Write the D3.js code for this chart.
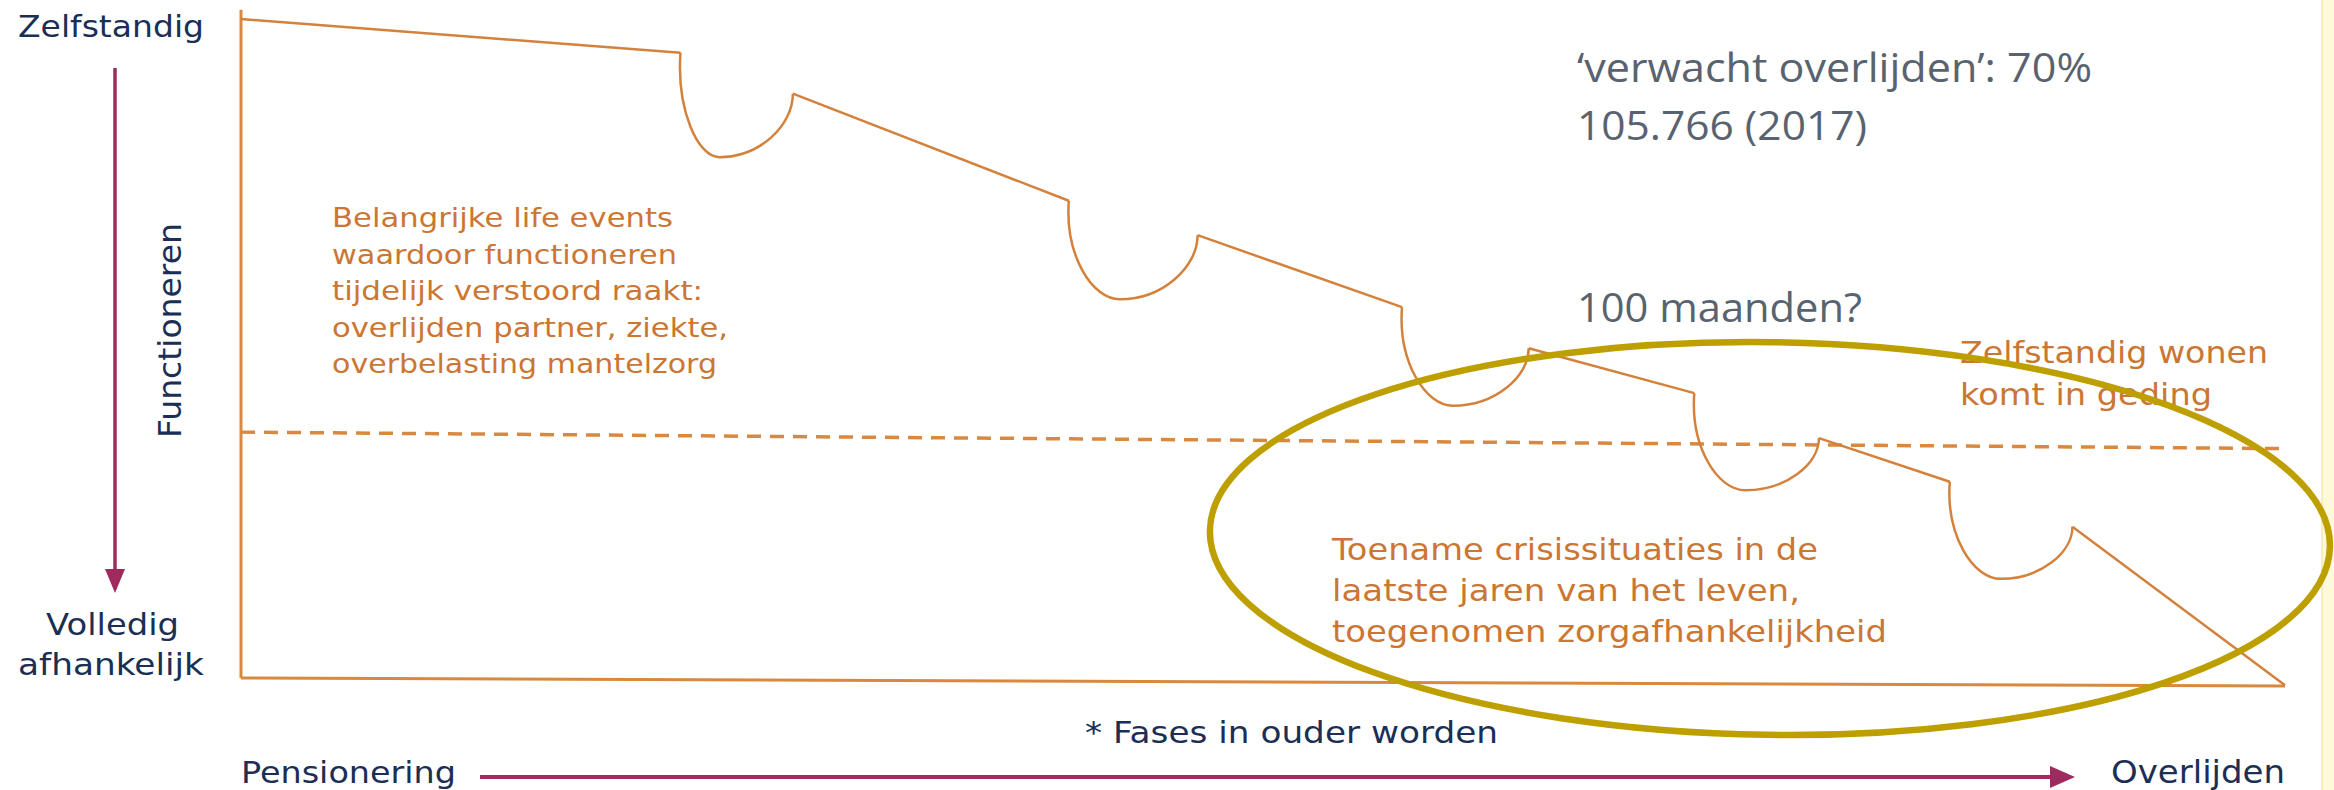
<!DOCTYPE html>
<html lang="nl">
<head>
<meta charset="UTF-8">
<title>Fases in ouder worden</title>
<script src="https://d3js.org/d3.v7.min.js"></script>
<style>
    body { margin: 0; background: #fff; }
    svg { display: block; }
    .navy { fill: #1b2f55; font-family: "DejaVu Sans", Verdana, sans-serif; }
    .oranje { fill: #cc7633; font-family: "DejaVu Sans", Verdana, sans-serif; }
    .grijs { fill: #59636f; font-family: "Open Sans", sans-serif; }
</style>
</head>
<body>
<div id="chart"></div>
<script>
// x = tijd (0 = pensionering, 100 = overlijden), y = functioneren (100 = zelfstandig, 0 = volledig afhankelijk)
const beginPunt = [0, 100];
const eindPunt = [100, -0.8];

// de "kuilen": life events waarbij het functioneren tijdelijk wegzakt
// per kuil: begin, diepste punt, herstel
const dipBegin = [[21.5, 94.9], [40.5, 72.5], [56.8, 56.4], [71.1, 43.4], [83.6, 30.0]];
const dipBodem = [[23.4, 79.1], [43.0, 57.6], [59.3, 41.5], [73.6, 28.7], [86.1, 15.3]];
const dipEind  = [[27.0, 88.7], [46.8, 67.3], [63.0, 50.2], [77.2, 36.6], [89.6, 23.2]];

const drempel = [[0, 37.5], [100, 35.0]];      // zelfstandig wonen komt in geding
const basisLijn = [[0, 0.3], [100, -0.9]];
const yAsLijn = [[0, 101.4], [0, 0.3]];

const ellipsCentrum = [74.8, 21.4];
const ellipsStraal = [27.4, 29.7];

// teksten
const lifeEvents = ["Belangrijke life events", "waardoor functioneren", "tijdelijk verstoord raakt:", "overlijden partner, ziekte,", "overbelasting mantelzorg"];
const lifeEventsBreedte = [341, 345, 371, 396, 385];
const crisis = ["Toename crisissituaties in de", "laatste jaren van het leven,", "toegenomen zorgafhankelijkheid"];
const crisisBreedte = [486, 468, 555];
const wonen = ["Zelfstandig wonen", "komt in geding"];
const wonenBreedte = [308, 252];
const cijfers = ["\u2018verwacht overlijden\u2019: 70%", "105.766 (2017)"];
const cijfersBreedte = [515, 290];

const width = 2334;
const height = 790;

const svg = d3.select("#chart")
    .append("svg")
    .attr("width", width)
    .attr("height", height);

const x = d3.scaleLinear().domain([0, 100]).range([241, 2285]);
const y = d3.scaleLinear().domain([0, 100]).range([680, 19]);

const rechteLijn = d3.line().x(d => x(d[0])).y(d => y(d[1]));

// kuil als twee kwart-ellipsen: omlaag naar de bodem, dan weer omhoog
function kuil(i) {
    const sx = x(dipBegin[i][0]), sy = y(dipBegin[i][1]);
    const bx = x(dipBodem[i][0]), by = y(dipBodem[i][1]);
    const ex = x(dipEind[i][0]), ey = y(dipEind[i][1]);
    const k = 0.55;
    const p = d3.path();
    p.moveTo(sx, sy);
    p.bezierCurveTo(sx - 4, sy + k * (by - sy), bx - k * (bx - sx), by, bx, by);
    p.bezierCurveTo(bx + k * (ex - bx), by, ex, ey + 0.5 * (by - ey), ex, ey);
    return p.toString();
}

// gele rand rechts
svg.append("rect")
    .attr("x", 2322).attr("y", 0)
    .attr("width", 12).attr("height", height)
    .attr("fill", "#fff9dc");
svg.append("line")
    .attr("x1", 2322).attr("x2", 2322).attr("y1", 0).attr("y2", height)
    .attr("stroke", "#f5e8ae").attr("stroke-width", 1.5);

// assen (oranje)
svg.append("path")
    .attr("d", rechteLijn(yAsLijn))
    .attr("fill", "none").attr("stroke", "#d9893f").attr("stroke-width", 3);
svg.append("path")
    .attr("d", rechteLijn(basisLijn))
    .attr("fill", "none").attr("stroke", "#d9893f").attr("stroke-width", 3);

// stippellijn
svg.append("path")
    .attr("d", rechteLijn(drempel))
    .attr("fill", "none")
    .attr("stroke", "#d9893f")
    .attr("stroke-width", 3.5)
    .attr("stroke-dasharray", "14,9");

// verloop van functioneren
const rechteStukken = [];
rechteStukken.push([beginPunt, dipBegin[0]]);
for (let i = 0; i < dipBegin.length - 1; i++) {
    rechteStukken.push([dipEind[i], dipBegin[i + 1]]);
}
rechteStukken.push([dipEind[dipEind.length - 1], eindPunt]);

svg.selectAll(".stuk")
    .data(rechteStukken)
    .enter()
    .append("path")
    .attr("class", "stuk")
    .attr("d", rechteLijn)
    .attr("fill", "none")
    .attr("stroke", "#d4813c")
    .attr("stroke-width", 2.5)
    .attr("stroke-linejoin", "round");

svg.selectAll(".dip")
    .data(d3.range(dipBegin.length))
    .enter()
    .append("path")
    .attr("class", "dip")
    .attr("d", kuil)
    .attr("fill", "none")
    .attr("stroke", "#d4813c")
    .attr("stroke-width", 2.5);

// paarse pijlen
const paars = "#9e2a5e";
svg.append("line")
    .attr("x1", 115).attr("y1", 68).attr("x2", 115).attr("y2", 575)
    .attr("stroke", paars).attr("stroke-width", 3.5);
svg.append("path")
    .attr("d", "M105,569 L125,569 L115,593 Z")
    .attr("fill", paars);
svg.append("line")
    .attr("x1", 480).attr("y1", 777).attr("x2", 2056).attr("y2", 777)
    .attr("stroke", paars).attr("stroke-width", 4);
svg.append("path")
    .attr("d", "M2050,766 L2050,788 L2075,777 Z")
    .attr("fill", paars);

// labels (navy)
function label(tekst, px, py, grootte, breedte) {
    return svg.append("text")
        .attr("class", "navy")
        .attr("x", px).attr("y", py)
        .attr("font-size", grootte + "px")
        .attr("textLength", breedte)
        .attr("lengthAdjust", "spacingAndGlyphs")
        .text(tekst);
}
label("Zelfstandig", 18, 37, 30, 186);
label("Volledig", 46, 635, 30, 133);
label("afhankelijk", 18, 675, 30, 186);
label("Pensionering", 241, 783, 30, 215);
label("* Fases in ouder worden", 1085, 743, 31, 413);
label("Overlijden", 2111, 783, 32, 174);

svg.append("text")
    .attr("class", "navy")
    .attr("transform", "translate(181,438) rotate(-90)")
    .attr("font-size", "32px")
    .attr("textLength", 215)
    .attr("lengthAdjust", "spacingAndGlyphs")
    .text("Functioneren");

// tekstblokken
function blok(regels, breedtes, klasse, px, py, stap, grootte) {
    svg.append("g")
        .selectAll("text")
        .data(regels)
        .enter()
        .append("text")
        .attr("class", klasse)
        .attr("x", px)
        .attr("y", (d, i) => py + i * stap)
        .attr("font-size", grootte + "px")
        .attr("textLength", (d, i) => breedtes[i])
        .attr("lengthAdjust", "spacingAndGlyphs")
        .text(d => d);
}
blok(lifeEvents, lifeEventsBreedte, "oranje", 332, 227, 36.5, 27);
blok(crisis, crisisBreedte, "oranje", 1332, 560, 41, 30);
blok(wonen, wonenBreedte, "oranje", 1960, 363, 42, 31);
blok(cijfers, cijfersBreedte, "grijs", 1577, 82, 58, 41);
blok(["100 maanden?"], [285], "grijs", 1577, 322, 0, 41);

// ellips rond de laatste fase
svg.append("ellipse")
    .attr("cx", x(ellipsCentrum[0]))
    .attr("cy", y(ellipsCentrum[1]))
    .attr("rx", x(ellipsCentrum[0] + ellipsStraal[0]) - x(ellipsCentrum[0]))
    .attr("ry", y(0) - y(ellipsStraal[1]))
    .attr("transform", `rotate(0.8 ${x(ellipsCentrum[0])} ${y(ellipsCentrum[1])})`)
    .attr("fill", "none")
    .attr("stroke", "#bd9f00")
    .attr("stroke-width", 6.5);
</script>
</body>
</html>
